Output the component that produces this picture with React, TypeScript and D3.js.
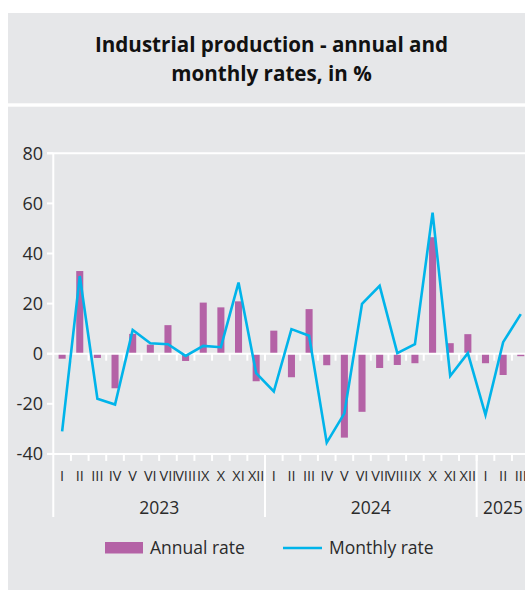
import React from "react";
import * as d3 from "d3";

const months = ["I","II","III","IV","V","VI","VII","VIII","IX","X","XI","XII","I","II","III","IV","V","VI","VII","VIII","IX","X","XI","XII","I","II","III"];
const years = ["2023", "2024", "2025"];
const monthsPerYear = [12, 12, 3];
const annualRate = [-2, 33, -1.7, -13.8, 7.9, 3.6, 11.4, -2.9, 20.4, 18.5, 20.9, -11, 9.2, -9.4, 17.8, -4.6, -33.5, -23.2, -5.7, -4.5, -3.8, 46.5, 4.2, 7.8, -3.8, -8.5, -1];
const monthlyRate = [-31, 31, -18, -20.3, 9.5, 4.2, 3.8, -0.9, 3.1, 2.6, 28.4, -7.8, -15.1, 9.8, 7.2, -35.5, -23.8, 19.9, 27.1, 0.2, 3.8, 56.3, -8.9, 0.2, -24.4, 4.6, 15.8];
const yTicks = [80, 60, 40, 20, 0, -20, -40];
const titleLines = ["Industrial production - annual and", "monthly rates, in %"];
const legendLabels = ["Annual rate", "Monthly rate"];

const BG = "#e6e7e9";
const BAR = "#b462a6";
const LINE = "#00b4ea";
const TXT = "#2b2b2b";
const FONT = "'Open Sans', 'Noto Sans', sans-serif";

export default function App() {
  const W = 525, H = 592;
  const ids = months.map((_, i) => String(i));
  const x = d3.scaleBand<string>().domain(ids).range([53.3, 529.6]);
  const y = d3.scaleLinear().domain([-40, 80]).range([453.9, 153.3]);
  const bw = x.bandwidth();
  const cx = (i: number) => (x(String(i)) as number) + bw / 2;
  const line = d3.line<number>().x((_, i) => cx(i)).y((d) => y(d));
  const left = 53.3;
  const right = 540;

  const yearStarts: number[] = [];
  let acc = 0;
  monthsPerYear.forEach((m) => { yearStarts.push(acc); acc += m; });
  const edge = (i: number) => i >= months.length ? (x(String(months.length - 1)) as number) + bw : (x(String(i)) as number);

  return (
    <svg width={W} height={H} style={{ position: "absolute", left: 0, top: 0, fontFamily: FONT }}>
      <rect x={0} y={0} width={W} height={H} fill="#ffffff" />
      <rect x={8} y={13} width={W} height={90.3} fill={BG} />
      <rect x={8} y={106.7} width={W} height={483.3} fill={BG} />
      {titleLines.map((t, i) => (
        <text key={i} x={271.5} y={52 + i * 29} textAnchor="middle" fontWeight={700} fontSize={20.6} fill="#111">{t}</text>
      ))}

      <line x1={47} x2={right} y1={y(80)} y2={y(80)} stroke="#fff" strokeWidth={2} />
      <line x1={left} x2={left} y1={y(80)} y2={517} stroke="#fff" strokeWidth={2} />
      {yTicks.map((t) => (
        <g key={t}>
          <line x1={47} x2={left} y1={y(t)} y2={y(t)} stroke="#fff" strokeWidth={2} />
          <text x={43} y={y(t)} dy="0.35em" textAnchor="end" fontSize={18} fill={TXT}>{t}</text>
        </g>
      ))}

      {annualRate.map((v, i) => (
        <rect key={i} x={cx(i) - bw * 0.2} width={bw * 0.4} y={Math.min(y(v), y(0))} height={Math.abs(y(v) - y(0))} fill={BAR} />
      ))}

      {[0, -40].map((lv) => (
        <g key={lv}>
          <line x1={47} x2={right} y1={y(lv)} y2={y(lv)} stroke="#fff" strokeWidth={2} />
          {months.map((_, i) => i > 0 ? (
            <line key={i} x1={edge(i)} x2={edge(i)} y1={y(lv)} y2={y(lv) + 7} stroke="#fff" strokeWidth={2} />
          ) : null)}
        </g>
      ))}

      {yearStarts.map((s, i) => i > 0 ? (
        <line key={i} x1={edge(s)} x2={edge(s)} y1={y(-40)} y2={517} stroke="#fff" strokeWidth={2} />
      ) : null)}

      <path d={line(monthlyRate) || ""} fill="none" stroke={LINE} strokeWidth={2.6} strokeLinejoin="miter" />

      {months.map((m, i) => (
        <text key={i} x={cx(i)} y={481} textAnchor="middle" fontSize={14.5} fill={TXT}>{m}</text>
      ))}
      {years.map((yr, i) => {
        const a = edge(yearStarts[i]);
        const b = edge(yearStarts[i] + monthsPerYear[i]);
        const c = i === years.length - 1 ? Math.min((a + b) / 2, 503) : (a + b) / 2;
        return <text key={yr} x={c} y={513.5} textAnchor="middle" fontSize={17.5} fill={TXT}>{yr}</text>;
      })}

      <rect x={105} y={542} width={38} height={11.5} fill={BAR} />
      <text x={150} y={554} fontSize={17.5} fill={TXT}>{legendLabels[0]}</text>
      <line x1={283} x2={322} y1={548} y2={548} stroke={LINE} strokeWidth={2.6} />
      <text x={329} y={554} fontSize={17.5} fill={TXT}>{legendLabels[1]}</text>
    </svg>
  );
}
